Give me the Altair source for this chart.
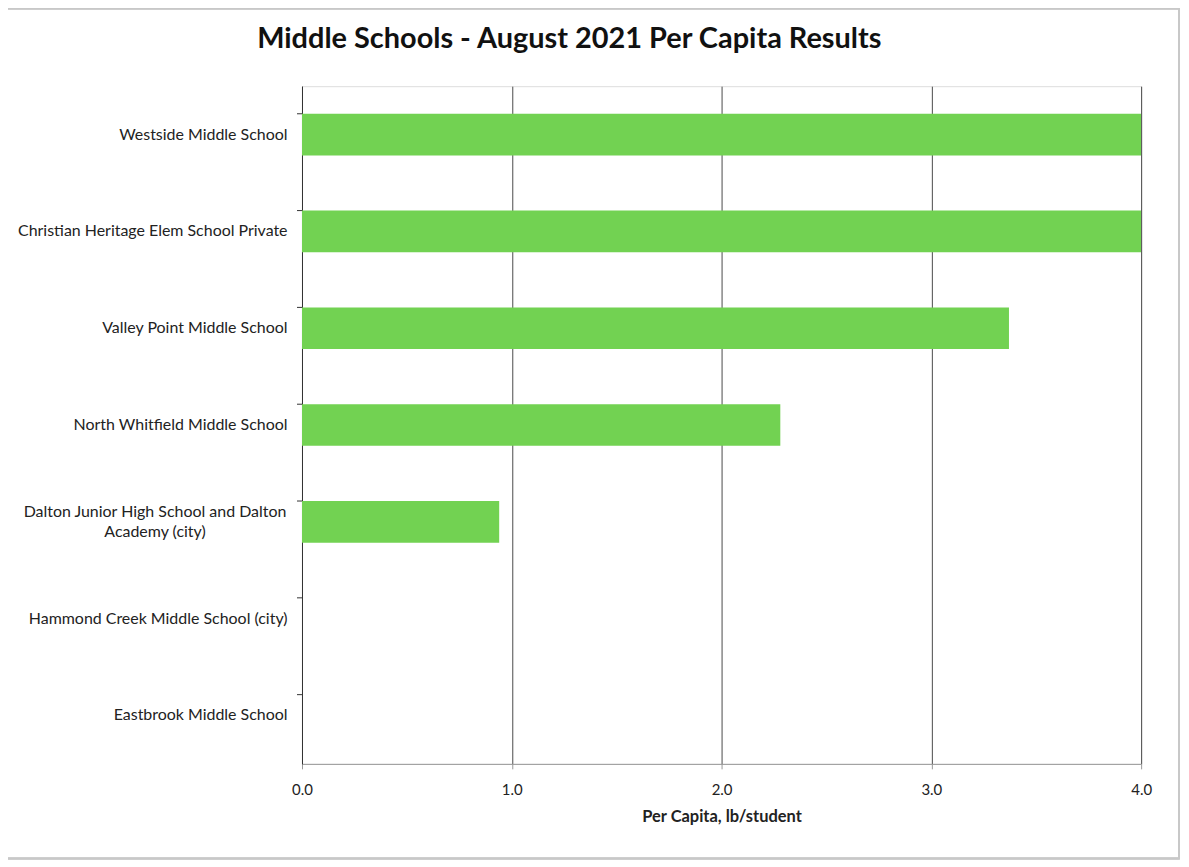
import altair as alt
import pandas as pd

schools = [
    "Westside Middle School",
    "Christian Heritage Elem School Private",
    "Valley Point Middle School",
    "North Whitfield Middle School",
    "Dalton Junior High School and Dalton Academy (city)",
    "Hammond Creek Middle School (city)",
    "Eastbrook Middle School",
]
per_capita = [4.0, 4.0, 3.37, 2.28, 0.94, 0.0, 0.0]
x_ticks = [0, 1, 2, 3, 4]

df = pd.DataFrame({"school": schools, "value": per_capita})

FONT = "Lato"
W, H = 842, 680
DALTON = schools[4]
IS_DALTON = "datum.value == '" + DALTON + "'"

y_scale = alt.Scale(domain=schools, paddingInner=0.57, paddingOuter=0.285)
x_scale = alt.Scale(domain=[0, 4], nice=False)

bars = alt.Chart(df).mark_bar(color="#72D252", clip=True).encode(
    x=alt.X(
        "value:Q",
        scale=x_scale,
        axis=alt.Axis(
            values=x_ticks,
            format=".1f",
            title="Per Capita, lb/student",
            titleFont=FONT,
            titleFontSize=16.5,
            titleFontWeight="bold",
            titleColor="#222",
            titlePadding=11,
            labelFont=FONT,
            labelFontSize=15,
            labelColor="#222",
            labelPadding=14,
            labelFlush=False,
            grid=True,
            gridColor="#4a4a4a",
            gridWidth=1,
            domainColor="#999",
            tickColor="#999",
            tickSize=5,
        ),
    ),
    y=alt.Y(
        "school:N",
        scale=y_scale,
        sort=schools,
        axis=alt.Axis(
            title=None,
            ticks=False,
            domainColor="#333",
            labelFont=FONT,
            labelFontSize=16,
            labelColor="#222",
            labelLimit=400,
            labelLineHeight=20,
            labelExpr=(
                IS_DALTON + " ? "
                "['Dalton Junior High School and Dalton', 'Academy (city)'] : datum.label"
            ),
            labelAlign={"condition": {"test": IS_DALTON, "value": "center"}, "value": "right"},
            labelPadding={"condition": {"test": IS_DALTON, "value": 148}, "value": 15},
            labelOffset={"condition": {"test": IS_DALTON, "value": -10}, "value": 0},
        ),
    ),
)

ticks = alt.Chart(df).mark_rule(color="#333", strokeWidth=1).encode(
    y=alt.Y("school:N", scale=y_scale, sort=schools, bandPosition=0),
    x=alt.value(-5),
    x2=alt.value(0),
)

frame = alt.Chart(df).mark_rect(fill=None, stroke="#c8c8c8", strokeWidth=1.5).encode(
    x=alt.value(-296), x2=alt.value(880), y=alt.value(-78), y2=alt.value(775)
)

chart = (
    alt.layer(frame, bars, ticks)
    .properties(
        width=W,
        height=H,
        title=alt.TitleParams(
            "Middle Schools - August 2021 Per Capita Results",
            font=FONT,
            fontSize=29,
            fontWeight="bold",
            color="#111",
            anchor="start",
            frame="group",
            dx=-45,
            offset=-46,
        ),
        padding={"left": 295, "top": 77, "right": 40, "bottom": 95},
        autosize=alt.AutoSizeParams(type="none"),
    )
    .configure_view(stroke=None)
    .configure(background="white")
)

chart.save("out.html", embed_options={"renderer": "svg", "actions": False})
